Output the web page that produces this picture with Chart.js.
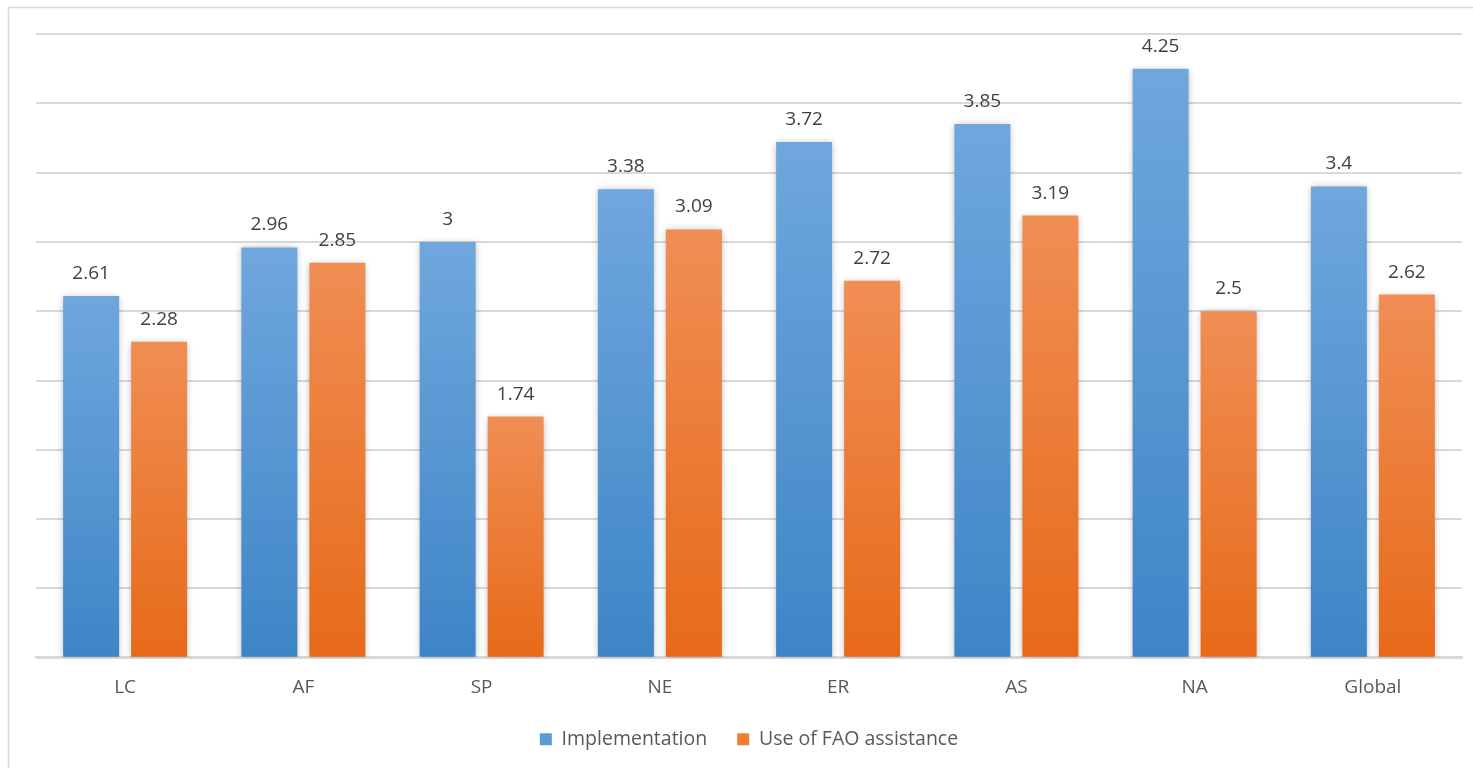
<!DOCTYPE html>
<html>
<head>
<meta charset="utf-8">
<script src="https://cdn.jsdelivr.net/npm/chart.js@4/dist/chart.umd.min.js"></script>
<style>
html,body{margin:0;padding:0;background:#fff;}
#wrap{position:relative;width:1473px;height:768px;}
</style>
</head>
<body>
<div id="wrap"><canvas id="c" width="1473" height="768"></canvas></div>
<script>
const categories = ["LC", "AF", "SP", "NE", "ER", "AS", "NA", "Global"];
const implementation = [2.61, 2.96, 3, 3.38, 3.72, 3.85, 4.25, 3.4];
const faoAssistance = [2.28, 2.85, 1.74, 3.09, 2.72, 3.19, 2.5, 2.62];
const seriesNames = ["Implementation", "Use of FAO assistance"];
const yTicks = [0, 0.5, 1, 1.5, 2, 2.5, 3, 3.5, 4, 4.5];

const FONT = "'Open Sans', 'DejaVu Sans', sans-serif";

function gradFill(top, bottom, solid) {
  return function (c) {
    const chart = c.chart;
    const ys = chart.scales && chart.scales.y;
    if (c.type !== 'data' || !ys) return solid;
    const t = ys.getPixelForValue(c.raw);
    const b = ys.getPixelForValue(0);
    if (!isFinite(t) || !isFinite(b) || t === b) return solid;
    const g = chart.ctx.createLinearGradient(0, t, 0, b);
    g.addColorStop(0, top);
    g.addColorStop(1, bottom);
    return g;
  };
}

const framePlugin = {
  id: 'frame',
  beforeDraw(chart) {
    const ctx = chart.ctx;
    ctx.save();
    ctx.fillStyle = '#ffffff';
    ctx.fillRect(0, 0, chart.width, chart.height);
    ctx.strokeStyle = '#d9d9d9';
    ctx.lineWidth = 1.5;
    ctx.strokeRect(8.5, 7.5, chart.width + 20, chart.height + 20);
    ctx.restore();
  }
};

const shadowPlugin = {
  id: 'barShadow',
  beforeDatasetDraw(chart) {
    const ctx = chart.ctx;
    ctx.save();
    ctx.shadowColor = 'rgba(0,0,0,0.28)';
    ctx.shadowBlur = 7;
    ctx.shadowOffsetX = 0;
    ctx.shadowOffsetY = 1;
  },
  afterDatasetDraw(chart) {
    chart.ctx.restore();
  }
};

const labelPlugin = {
  id: 'valueLabels',
  afterDatasetsDraw(chart) {
    const ctx = chart.ctx;
    ctx.save();
    ctx.font = "19px " + FONT;
    ctx.fillStyle = '#404040';
    ctx.textAlign = 'center';
    ctx.textBaseline = 'alphabetic';
    chart.data.datasets.forEach((ds, di) => {
      const meta = chart.getDatasetMeta(di);
      meta.data.forEach((el, i) => {
        ctx.fillText(String(ds.data[i]), el.x, el.y - 17);
      });
    });
    ctx.restore();
  }
};

new Chart(document.getElementById('c'), {
  type: 'bar',
  data: {
    labels: categories,
    datasets: [
      {
        label: seriesNames[0],
        data: implementation,
        backgroundColor: gradFill('#6fa7dd', '#3e85c6', '#5b9bd5'),
        borderWidth: 0,
        categoryPercentage: 0.763,
        barPercentage: 0.8235
      },
      {
        label: seriesNames[1],
        data: faoAssistance,
        backgroundColor: gradFill('#f08e54', '#e76a19', '#ed7d31'),
        borderWidth: 0,
        categoryPercentage: 0.763,
        barPercentage: 0.8235
      }
    ]
  },
  options: {
    responsive: false,
    animation: false,
    devicePixelRatio: 1,
    layout: { padding: { left: 36, right: 11, top: 34, bottom: 9 } },
    plugins: {
      tooltip: { enabled: false },
      legend: {
        position: 'bottom',
        labels: {
          font: { family: FONT, size: 19.5 },
          color: '#595959',
          boxWidth: 12,
          boxHeight: 12,
          padding: 30,
          generateLabels(chart) {
            const cols = ['#5b9bd5', '#ed7d31'];
            return chart.data.datasets.map((ds, i) => ({
              text: ds.label,
              fillStyle: cols[i],
              strokeStyle: cols[i],
              lineWidth: 0,
              hidden: false,
              datasetIndex: i,
              fontColor: '#595959'
            }));
          }
        }
      }
    },
    scales: {
      x: {
        grid: { display: false, drawTicks: false },
        border: { display: true, color: '#d9d9d9', width: 2.5 },
        ticks: { font: { family: FONT, size: 19 }, color: '#595959', padding: 18 },
        afterFit(axis) { axis.height = axis.height - 17; }
      },
      y: {
        min: 0,
        max: 4.5,
        afterBuildTicks(axis) { axis.ticks = yTicks.map(v => ({ value: v })); },
        grid: { color: '#d9d9d9', lineWidth: 2, drawTicks: false },
        border: { display: false },
        ticks: { display: false }
      }
    }
  },
  plugins: [framePlugin, shadowPlugin, labelPlugin]
});
</script>
</body>
</html>
